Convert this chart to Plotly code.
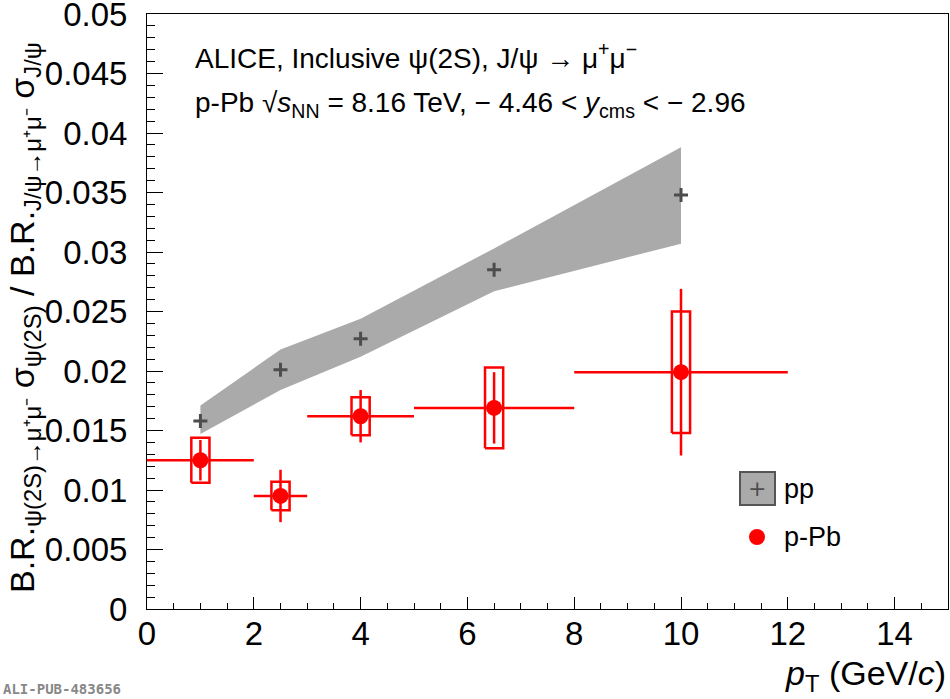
import plotly.graph_objects as go

# pp reference (gray band + crosses)
pp_pt = [1.0, 2.5, 4.0, 6.5, 10.0]
pp_val = [0.0158, 0.0201, 0.0227, 0.0285, 0.0348]
pp_hi = [0.0171, 0.0218, 0.0244, 0.0303, 0.0388]
pp_lo = [0.0147, 0.0184, 0.0212, 0.0267, 0.0307]

# p-Pb
ppb_pt = [1.0, 2.5, 4.0, 6.5, 10.0]
ppb_xlo = [1.0, 0.5, 1.0, 1.5, 2.0]
ppb_xhi = [1.0, 0.5, 1.0, 1.5, 2.0]
ppb_val = [0.0125, 0.0095, 0.0162, 0.0169, 0.0199]
ppb_stat = [0.0017, 0.0022, 0.0022, 0.0030, 0.0070]
ppb_sys = [0.0019, 0.0012, 0.0016, 0.0034, 0.0051]

# tick labels
y_tickvals = [0, 0.005, 0.01, 0.015, 0.02, 0.025, 0.03, 0.035, 0.04, 0.045, 0.05]
y_ticktext = ["0", "0.005", "0.01", "0.015", "0.02", "0.025", "0.03", "0.035", "0.04", "0.045", "0.05"]
x_tickvals = [0, 2, 4, 6, 8, 10, 12, 14]
x_ticktext = ["0", "2", "4", "6", "8", "10", "12", "14"]

BOXW = 0.17
RED = "#ff0000"
FONT = "Liberation Sans, Arial, sans-serif"

fig = go.Figure()

# pp band
fig.add_trace(go.Scatter(
    x=pp_pt + pp_pt[::-1], y=pp_hi + pp_lo[::-1],
    fill="toself", fillcolor="#aaaaaa", line=dict(width=0),
    mode="lines", hoverinfo="skip", showlegend=False))
fig.add_trace(go.Scatter(
    x=pp_pt, y=pp_val, mode="markers",
    marker=dict(symbol="cross-thin", size=10, line=dict(color="#4d4d4d", width=3)),
    showlegend=False))

# p-Pb systematic boxes
bx, by = [], []
for x, v, s in zip(ppb_pt, ppb_val, ppb_sys):
    bx += [x - BOXW, x + BOXW, x + BOXW, x - BOXW, x - BOXW, None]
    by += [v - s, v - s, v + s, v + s, v - s, None]
fig.add_trace(go.Scatter(x=bx, y=by, mode="lines",
                         line=dict(color=RED, width=2.5), showlegend=False, hoverinfo="skip"))

# p-Pb points with stat errors
fig.add_trace(go.Scatter(
    x=ppb_pt, y=ppb_val, mode="markers",
    marker=dict(symbol="circle", size=16, color=RED),
    error_x=dict(type="data", array=ppb_xhi, arrayminus=ppb_xlo, symmetric=False,
                 color=RED, thickness=2.5, width=0),
    error_y=dict(type="data", array=ppb_stat, color=RED, thickness=2.5, width=0),
    showlegend=False))

L, R, T, B = 147, 2, 14, 90
W, H = 950, 699
pw, ph = W - L - R, H - T - B


def px(xp):
    return (xp - L) / pw


def py(yp):
    return (H - B - yp) / ph


anns = []
anns.append(dict(text="ALICE, Inclusive ψ(2S), J/ψ → μ<sup>+</sup>μ<sup>−</sup>",
                 x=px(193), y=py(56), xanchor="left", yanchor="middle",
                 font=dict(size=28, color="black", family=FONT)))
anns.append(dict(text="p-Pb √<i>s</i><sub>NN</sub> = 8.16 TeV, − 4.46 < <i>y</i><sub>cms</sub> < − 2.96",
                 x=px(193), y=py(104), xanchor="left", yanchor="middle",
                 font=dict(size=28, color="black", family=FONT)))
# legend texts
anns.append(dict(text="pp", x=px(782), y=py(489), xanchor="left", yanchor="middle",
                 font=dict(size=27, color="black", family=FONT)))
anns.append(dict(text="p-Pb", x=px(782), y=py(537), xanchor="left", yanchor="middle",
                 font=dict(size=27, color="black", family=FONT)))
anns.append(dict(text="+", x=px(757), y=py(488), xanchor="center", yanchor="middle",
                 font=dict(size=22, color="#4d4d4d", family="DejaVu Sans"), ))
# axis titles
anns.append(dict(text="<i>p</i><sub>T</sub> (GeV/<i>c</i>)", x=1.0, y=py(675),
                 xanchor="right", yanchor="middle",
                 font=dict(size=34, color="black", family=FONT)))
anns.append(dict(text="B.R.<sub>ψ(2S)→μ⁺μ⁻</sub> σ<sub>ψ(2S)</sub> / B.R.<sub>J/ψ→μ⁺μ⁻</sub> σ<sub>J/ψ</sub>",
                 x=px(24), y=py(318), xanchor="center", yanchor="middle", textangle=-90,
                 font=dict(size=34, color="black", family=FONT)))
anns.append(dict(text="<b>ALI-PUB-483656</b>", x=px(1), y=py(689), xanchor="left", yanchor="middle",
                 font=dict(size=14, color="#888888", family="DejaVu Sans Mono")))
for a in anns:
    a.update(xref="paper", yref="paper", showarrow=False)

shapes = [
    dict(type="rect", xref="paper", yref="paper", x0=px(740), x1=px(775), y0=py(505), y1=py(472),
         fillcolor="#aaaaaa", line=dict(color="#555555", width=2)),
    dict(type="circle", xref="paper", yref="paper", x0=px(749), x1=px(765), y0=py(545), y1=py(529),
         fillcolor=RED, line=dict(color=RED, width=0)),
]

fig.update_layout(
    width=W, height=H,
    margin=dict(l=L, r=R, t=T, b=B, autoexpand=False),
    plot_bgcolor="white", paper_bgcolor="white",
    font=dict(family=FONT, size=33, color="black"),
    annotations=anns, shapes=shapes,
    xaxis=dict(range=[0, 15], tickvals=x_tickvals, ticktext=x_ticktext,
               ticks="inside", ticklen=12, tickwidth=1,
               tickcolor="black", showline=True, linecolor="black", linewidth=1, mirror=True,
               showgrid=False, zeroline=False, ticklabelstandoff=-5, ticklabeloverflow="allow",
               minor=dict(dtick=0.5, ticks="inside", ticklen=6, tickcolor="black"),
               tickfont=dict(size=33)),
    yaxis=dict(range=[0, 0.05], tickvals=y_tickvals, ticktext=y_ticktext,
               ticks="inside", ticklen=16, tickwidth=1,
               tickcolor="black", showline=True, linecolor="black", linewidth=1, mirror=True,
               showgrid=False, zeroline=False, ticklabelstandoff=12, ticklabeloverflow="allow",
               minor=dict(dtick=0.001, ticks="inside", ticklen=8, tickcolor="black"),
               tickfont=dict(size=33)),
    showlegend=False,
)

fig.write_html("out.html", config={"displayModeBar": False})

with open("out.html", "r", encoding="utf-8") as f:
    html = f.read()
html = html.replace("<body>", '<body style="margin:0;padding:0;overflow:hidden">', 1)
with open("out.html", "w", encoding="utf-8") as f:
    f.write(html)
